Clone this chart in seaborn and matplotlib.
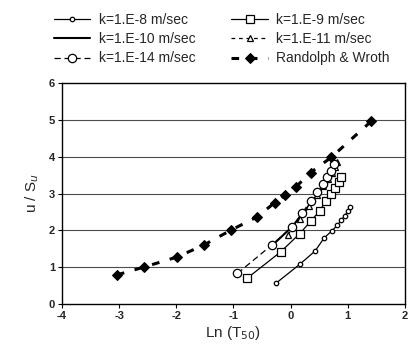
import matplotlib
matplotlib.use("Agg")
import matplotlib.pyplot as plt
import seaborn as sns
import numpy as np
import pandas as pd

# ---- data ----
x_k8 = [-0.25, 0.17, 0.43, 0.59, 0.72, 0.82, 0.89, 0.95, 1.00, 1.04]
y_k8 = [0.57, 1.09, 1.44, 1.80, 1.98, 2.14, 2.28, 2.40, 2.52, 2.63]

x_k9 = [-0.76, -0.17, 0.16, 0.36, 0.51, 0.62, 0.71, 0.78, 0.84, 0.88]
y_k9 = [0.70, 1.42, 1.91, 2.26, 2.53, 2.80, 3.00, 3.15, 3.30, 3.44]

x_k10 = [-0.33, 0.03, 0.22, 0.40, 0.54, 0.65, 0.73, 0.79]
y_k10 = [1.58, 2.10, 2.48, 2.82, 3.12, 3.40, 3.62, 3.80]

x_k11 = [-0.05, 0.16, 0.33, 0.46, 0.57, 0.65, 0.72, 0.78, 0.82]
y_k11 = [1.88, 2.30, 2.65, 2.95, 3.20, 3.40, 3.57, 3.72, 3.85]

x_k14 = [-0.93, -0.33, 0.03, 0.20, 0.35, 0.47, 0.56, 0.63, 0.70, 0.76]
y_k14 = [0.83, 1.60, 2.10, 2.46, 2.80, 3.05, 3.25, 3.45, 3.62, 3.80]

x_rw = [-3.04, -2.57, -1.98, -1.52, -1.05, -0.58, -0.28, -0.09, 0.10, 0.35, 0.71, 1.41]
y_rw = [0.79, 1.00, 1.28, 1.60, 2.00, 2.37, 2.75, 2.97, 3.19, 3.57, 3.98, 4.96]

labels = ["k=1.E-8 m/sec", "k=1.E-9 m/sec", "k=1.E-10 m/sec",
          "k=1.E-11 m/sec", "k=1.E-14 m/sec", "Randolph & Wroth"]

x_ticks = [-4, -3, -2, -1, 0, 1, 2]
y_ticks = [0, 1, 2, 3, 4, 5, 6]

sns.set_theme(style="white")
plt.rcParams['font.family'] = ['Liberation Sans', 'DejaVu Sans']

fig = plt.figure(figsize=(4.11, 3.49), dpi=100)
ax = fig.add_axes([0.151, 0.129, 0.834, 0.633])

for yv in [1, 2, 3, 4, 5]:
    ax.axhline(yv, color='0.3', lw=0.8, zorder=0)

series = [
    (x_k8, y_k8, dict(marker='o', ms=3.2, mfc='white', mec='black', mew=0.9,
                      linestyle='-', lw=0.9)),
    (x_k9, y_k9, dict(marker='s', ms=5.5, mfc='white', mec='black', mew=0.9,
                      linestyle='-', lw=0.9)),
    (x_k10, y_k10, dict(marker=None, linestyle='-', lw=1.5)),
    (x_k11, y_k11, dict(marker='^', ms=4.5, mfc='white', mec='black', mew=0.9,
                        linestyle=(0, (3, 3)), lw=0.9)),
    (x_k14, y_k14, dict(marker='o', ms=6, mfc='white', mec='black', mew=0.9,
                        linestyle=(0, (5, 3)), lw=0.9)),
    (x_rw, y_rw, dict(marker='D', ms=5, mfc='black', mec='black',
                      linestyle=(0, (2.5, 3.5)), lw=2.2)),
]

handles = []
for (xs, ys, kw), lab in zip(series, labels):
    df = pd.DataFrame({'x': xs, 'y': ys})
    sns.lineplot(data=df, x='x', y='y', ax=ax, sort=False, estimator=None,
                 color='black', label=lab, legend=False, **kw)
    handles.append(ax.lines[-1])

ax.set_xlim(-4, 2)
ax.set_ylim(0, 6)
ax.set_xticks(x_ticks)
ax.set_yticks(y_ticks)
ax.set_xticklabels([str(t) for t in x_ticks], fontsize=8, fontweight='bold')
ax.set_yticklabels([str(t) for t in y_ticks], fontsize=8, fontweight='bold')
ax.tick_params(axis='both', direction='out', length=3, width=0.8, color='black',
               bottom=True, left=True, pad=2)
for s in ax.spines.values():
    s.set_color('black')
    s.set_linewidth(1.0)

ax.set_xlabel("Ln (T$_{50}$)", fontsize=11, labelpad=2)
ax.set_ylabel("u / S$_u$", fontsize=11, labelpad=6)

order = [0, 2, 4, 1, 3, 5]
fig.legend([handles[i] for i in order], [labels[i] for i in order],
           loc='upper left', bbox_to_anchor=(0.105, 0.995), ncol=2, frameon=False,
           fontsize=10, handlelength=2.6, handletextpad=0.6, columnspacing=2.6,
           labelspacing=0.38, borderaxespad=0.4)

fig.savefig("out.png", dpi=100)
